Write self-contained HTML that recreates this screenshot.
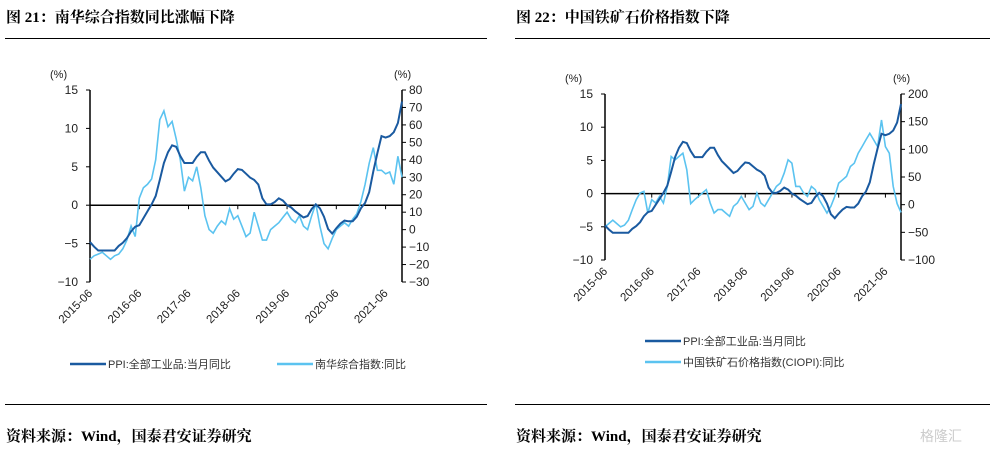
<!DOCTYPE html>
<html><head><meta charset="utf-8"><style>
body{margin:0;width:992px;height:449px;background:#fff;overflow:hidden;font-family:"Liberation Sans","Noto Sans CJK SC",sans-serif}
svg{position:absolute;left:0;top:0}
</style></head><body>
<svg id="s" width="992" height="449">
<text x="6" y="22" font-family="Liberation Serif,Noto Serif CJK SC,serif" font-weight="bold" font-size="15">图 21：南华综合指数同比涨幅下降</text>
<text x="516" y="22" font-family="Liberation Serif,Noto Serif CJK SC,serif" font-weight="bold" font-size="15">图 22：中国铁矿石价格指数下降</text>
<line x1="5" y1="38.5" x2="487" y2="38.5" stroke="#000" stroke-width="1"/>
<line x1="515" y1="38.5" x2="990" y2="38.5" stroke="#000" stroke-width="1"/>
<line x1="5" y1="404.5" x2="487" y2="404.5" stroke="#000" stroke-width="1"/>
<line x1="515" y1="404.5" x2="990" y2="404.5" stroke="#000" stroke-width="1"/>
<text x="6" y="441" font-family="Liberation Serif,Noto Serif CJK SC,serif" font-weight="bold" font-size="15">资料来源：Wind，国泰君安证券研究</text>
<text x="516" y="441" font-family="Liberation Serif,Noto Serif CJK SC,serif" font-weight="bold" font-size="15">资料来源：Wind，国泰君安证券研究</text>
<text x="920" y="441" font-size="14" fill="#ccc">格隆汇</text>
</svg>
<script>
const months=["2015-06","2016-06","2017-06","2018-06","2019-06","2020-06","2021-06"];
const ppi=[-4.8,-5.4,-5.9,-5.9,-5.9,-5.9,-5.9,
-5.3,-4.9,-4.3,-3.4,-2.8,-2.6,-1.7,-0.8,0.1,1.2,3.3,5.5,
6.9,7.8,7.6,6.4,5.5,5.5,5.5,6.3,6.9,6.9,5.8,4.9,
4.3,3.7,3.1,3.4,4.1,4.7,4.6,4.1,3.6,3.3,2.7,0.9,
0.1,0.1,0.4,0.9,0.6,0,-0.3,-0.8,-1.2,-1.6,-1.4,-0.5,
0.1,-0.4,-1.5,-3.1,-3.7,-3.0,-2.4,-2.0,-2.1,-2.1,-1.5,-0.4,
0.3,1.7,4.4,6.8,9.0,8.8,9.0,9.5,10.7,13.5];
const nanhua=[-17,-15,-14,-13,-15,-17,-15,
-14,-11,-6,2,-4,18,24,26,29,40,63,68,
59,62,52,40,22,30,28,36,24,8,0,-2,
2,5,3,12,6,8,2,-4,-2,10,2,-6,
-6,0,2,4,7,10,6,4,8,2,0,8,
15,2,-8,-11,-5,0,2,4,2,6,9,16,
26,38,47,34,34,32,33,26,42,30];
const ciopi=[-40,-34,-28,-34,-40,-37,-28,
-9,9,21,24,-15,9,3,15,3,33,87,81,
87,93,63,2,9,15,21,27,3,-15,-9,-9,
-15,-21,-3,3,15,3,-9,-3,21,3,-3,9,
21,33,39,57,81,75,33,33,21,15,33,27,
9,-3,-15,-3,15,39,45,51,69,75,93,105,
117,129,117,105,153,105,93,33,2,-14];
const leftTicks=[15,10,5,0,-5,-10];
const right1Ticks=[80,70,60,50,40,30,20,10,0,-10,-20,-30];
const right2Ticks=[200,150,100,50,0,-50,-100];
const NS="http://www.w3.org/2000/svg",svg=document.getElementById('s');
function el(t,a,p){const e=document.createElementNS(NS,t);for(const k in a)e.setAttribute(k,a[k]);(p||svg).appendChild(e);return e;}
function chart(cfg){
 const g=el('g',{});
 
 
 const X=i=>cfg.x0+(cfg.x1-cfg.x0)*i/(ppi.length-1);
 const YL=v=>cfg.yt+(15-v)/25*(cfg.yb-cfg.yt);
 const YR=v=>cfg.yt+(cfg.rmax-v)/(cfg.rmax-cfg.rmin)*(cfg.yb-cfg.yt);
 let a=el('line',{x1:cfg.x0,y1:cfg.yt,x2:cfg.x0,y2:cfg.yb,stroke:'#000','stroke-width':1.5},g);
 
 a=el('line',{x1:cfg.x1,y1:cfg.yt,x2:cfg.x1,y2:cfg.yb,stroke:'#000','stroke-width':1.5},g);
 
 a=el('line',{x1:cfg.x0,y1:YL(0),x2:cfg.x1,y2:YL(0),stroke:'#000','stroke-width':1.5},g);
 
 leftTicks.forEach(v=>{el('line',{x1:cfg.x0-4,y1:YL(v),x2:cfg.x0,y2:YL(v),stroke:'#000'},g);
  const t=el('text',{x:cfg.x0-12,y:YL(v)+4,'text-anchor':'end','font-size':12,fill:'#222'},g);t.textContent=String(v).replace('-','−');
  });
 cfg.rt.forEach(v=>{el('line',{x1:cfg.x1,y1:YR(v),x2:cfg.x1+4,y2:YR(v),stroke:'#000'},g);
  const t=el('text',{x:cfg.x1+7,y:YR(v)+4,'font-size':12,fill:'#222'},g);t.textContent=String(v).replace('-','−');
  });
 months.forEach((m,k)=>{const x=X(k*12);el('line',{x1:x,y1:YL(0),x2:x,y2:YL(0)+4,stroke:'#000'},g);
  const t=el('text',{x:x+3,y:cfg.yb+12,'text-anchor':'end','font-size':11.5,fill:'#222',transform:`rotate(-45 ${x+3} ${cfg.yb+12})`},g);t.textContent=m;
  });
 let u=el('text',{x:cfg.x0-40,y:cfg.yt-12,'font-size':11,fill:'#222'},g);u.textContent='(%)';
 
 u=el('text',{x:cfg.x1-8,y:cfg.yt-12,'font-size':11,fill:'#222'},g);u.textContent='(%)';
 
 let p=el('path',{d:cfg.sec.map((v,i)=>(i?'L':'M')+X(i).toFixed(1)+','+YR(v).toFixed(1)).join(''),fill:'none',stroke:'#5bc3f0','stroke-width':1.6},g);
 
 p=el('path',{d:ppi.map((v,i)=>(i?'L':'M')+X(i).toFixed(1)+','+YL(v).toFixed(1)).join(''),fill:'none',stroke:'#1a5aa0','stroke-width':2},g);
 
}
chart({name:'nanhua-chart',x0:90,x1:402,yt:90,yb:282,rmax:80,rmin:-30,rt:right1Ticks,sec:nanhua});
chart({name:'ciopi-chart',x0:605,x1:901,yt:94,yb:260,rmax:200,rmin:-100,rt:right2Ticks,sec:ciopi});
function leg(x,y,c,txt,name){const l=el('line',{x1:x,y1:y,x2:x+36,y2:y,stroke:c,'stroke-width':2.5});
 
 const t=el('text',{x:x+38,y:y+4,'font-size':11,fill:'#333'});t.textContent=txt;
 }
leg(70,364,'#1a5aa0','PPI:全部工业品:当月同比','legend-entry-ppi-1');
leg(277,364,'#5bc3f0','南华综合指数:同比','legend-entry-nanhua');
leg(645,341,'#1a5aa0','PPI:全部工业品:当月同比','legend-entry-ppi-2');
leg(645,362,'#5bc3f0','中国铁矿石价格指数(CIOPI):同比','legend-entry-ciopi');
</script>
</body></html>
